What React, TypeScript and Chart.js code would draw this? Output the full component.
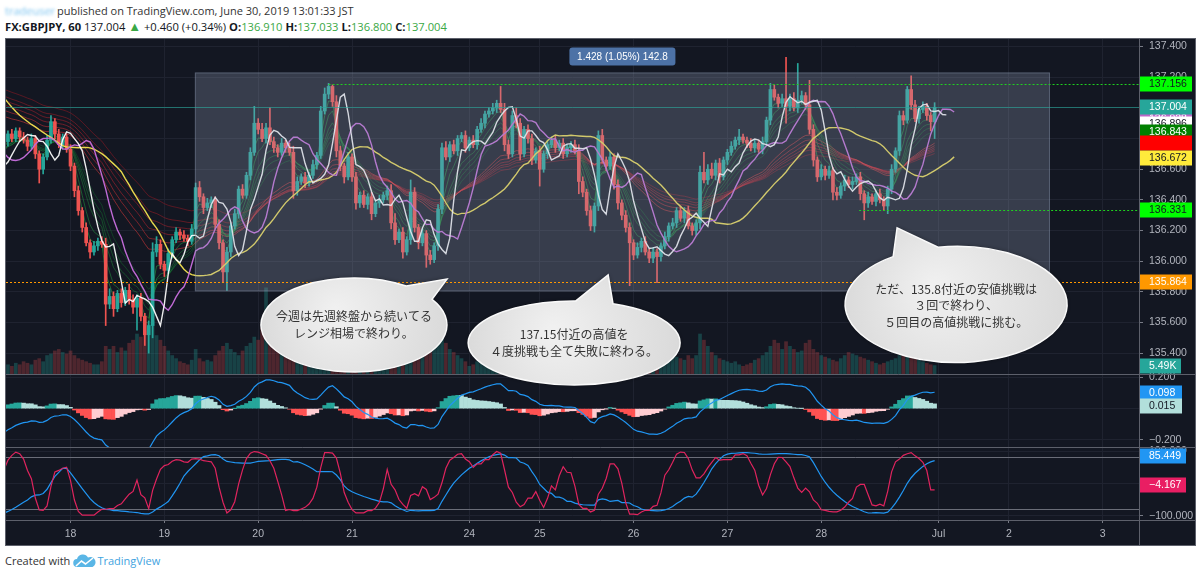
import React, { useEffect, useRef } from "react";
import { Chart, registerables } from "chart.js";

Chart.register(...registerables);

// ------------------------------------------------------------------ data
// hourly closes before the first visible bar (only feed the indicators)
const warmupCloses = [
  137.45, 137.42, 137.38, 137.40, 137.36, 137.30, 137.33, 137.28, 137.25, 137.27,
  137.22, 137.18, 137.20, 137.12, 137.08, 137.10, 137.02, 136.95, 136.88, 136.80,
  136.76, 136.72, 136.70, 136.68, 136.66, 136.62, 136.60, 136.64, 136.70, 136.74,
];

// GBPJPY 60 min closes, Jun 17 07:00 JST -> Jun 29 05:00 JST (weekend skipped)
const closes = [
  136.78, 136.83, 136.80, 136.85, 136.81, 136.79, 136.75, 136.80, 136.70, 136.60,
  136.68, 136.79, 136.91, 136.83, 136.76, 136.81, 136.73, 136.62, 136.46, 136.33,
  136.22, 136.12, 136.06, 136.10, 136.13, 136.11, 135.72, 135.77, 135.69, 135.79,
  135.73, 135.81, 135.75, 135.70, 135.76, 135.64, 135.52, 135.58, 136.06, 136.11,
  135.98, 135.94, 136.05, 136.14, 136.19, 136.17, 136.15, 136.13, 136.21, 136.48,
  136.42, 136.35, 136.38, 136.40, 136.24, 136.12, 135.93, 136.06, 136.23, 136.31,
  136.47, 136.43, 136.56, 136.71, 136.90, 136.86, 136.80, 136.87, 136.78, 136.74,
  136.71, 136.77, 136.74, 136.71, 136.46, 136.52, 136.55, 136.51, 136.56, 136.63,
  136.69, 136.98, 137.09, 137.14, 137.04, 136.72, 136.62, 136.55, 136.68, 136.55,
  136.38, 136.43, 136.37, 136.42, 136.31, 136.38, 136.40, 136.43, 136.46, 136.25,
  136.14, 136.19, 136.06, 136.14, 136.45, 136.22, 136.12, 136.18, 136.04, 136.01,
  136.10, 136.34, 136.74, 136.68, 136.76, 136.72, 136.80, 136.82, 136.74, 136.79,
  136.76, 136.86, 136.90, 136.96, 136.98, 137.00, 137.03, 136.99, 136.76, 136.70,
  136.95, 136.90, 136.70, 136.86, 136.80, 136.66, 136.72, 136.60, 136.70, 136.76,
  136.79, 136.74, 136.77, 136.70, 136.74, 136.76, 136.72, 136.52, 136.45, 136.33,
  136.23, 136.36, 136.82, 136.66, 136.62, 136.68, 136.50, 136.38, 136.30, 136.22,
  136.12, 136.04, 136.09, 136.13, 136.06, 136.02, 136.06, 136.03, 136.10, 136.16,
  136.23, 136.25, 136.33, 136.28, 136.33, 136.23, 136.20, 136.25, 136.58, 136.53,
  136.60, 136.56, 136.64, 136.55, 136.66, 136.71, 136.75, 136.79, 136.81, 136.79,
  136.77, 136.74, 136.77, 136.73, 136.78, 136.92, 137.12, 137.07, 137.03, 137.06,
  137.01, 137.06, 137.00, 137.05, 137.08, 137.02, 136.86, 136.66, 136.55, 136.60,
  136.56, 136.59, 136.45, 136.43, 136.49, 136.53, 136.50, 136.52, 136.55, 136.44,
  136.38, 136.42, 136.39, 136.44, 136.40, 136.36, 136.47, 136.60, 136.72, 136.95,
  136.92, 137.12, 137.02, 136.93, 136.99, 137.01, 136.95, 136.91, 137.004,
];

// wick lengths beyond the body, in pips
const upperWickPips = [
  3, 2, 3, 2, 2, 3, 2, 3, 2, 2,
  2, 3, 4, 2, 3, 2, 2, 3, 2, 3,
  2, 3, 2, 3, 2, 3, 4, 5, 3, 2,
  3, 2, 4, 3, 2, 3, 2, 3, 6, 5,
  3, 2, 3, 2, 3, 2, 3, 2, 3, 3,
  4, 2, 3, 2, 2, 3, 2, 3, 2, 3,
  2, 3, 2, 3, 11, 3, 4, 3, 13, 3,
  2, 3, 2, 3, 4, 3, 2, 3, 2, 3,
  2, 3, 4, 2, 1, 4, 3, 2, 3, 2,
  3, 2, 3, 2, 3, 2, 3, 2, 3, 4,
  6, 2, 3, 2, 8, 3, 2, 3, 2, 3,
  2, 3, 3, 4, 2, 3, 2, 2, 3, 2,
  3, 2, 3, 2, 2, 3, 2, 11, 4, 3,
  3, 5, 3, 2, 3, 3, 2, 3, 2, 3,
  2, 3, 2, 3, 2, 2, 3, 4, 3, 2,
  3, 2, 3, 4, 2, 3, 2, 3, 2, 3,
  3, 2, 3, 2, 3, 2, 3, 2, 2, 3,
  2, 3, 2, 3, 2, 3, 2, 2, 4, 13,
  3, 4, 2, 3, 2, 2, 3, 2, 5, 2,
  2, 3, 2, 2, 3, 2, 4, 3, 2, 3,
  27, 3, 4, 24, 3, 2, 16, 3, 2, 3,
  2, 3, 2, 3, 2, 3, 2, 3, 2, 3,
  2, 3, 2, 2, 3, 2, 2, 3, 2, 3,
  3, 2, 9, 3, 2, 3, 2, 2, 3,
];
const lowerWickPips = [
  2, 3, 2, 2, 3, 2, 3, 2, 3, 9,
  3, 2, 2, 3, 2, 3, 2, 3, 4, 3,
  3, 2, 4, 2, 3, 2, 14, 3, 5, 2,
  3, 2, 3, 4, 15, 3, 7, 12, 8, 3,
  3, 4, 2, 3, 2, 3, 2, 3, 2, 3,
  3, 4, 2, 3, 3, 4, 7, 12, 3, 2,
  3, 2, 2, 3, 2, 3, 2, 3, 2, 3,
  3, 2, 3, 2, 5, 3, 2, 3, 2, 2,
  3, 2, 2, 3, 3, 4, 3, 4, 2, 3,
  4, 3, 2, 3, 4, 2, 3, 2, 3, 4,
  3, 2, 4, 2, 3, 3, 4, 2, 8, 3,
  2, 3, 3, 2, 3, 2, 3, 2, 3, 2,
  2, 3, 2, 3, 2, 2, 3, 2, 4, 3,
  2, 3, 4, 2, 3, 3, 2, 11, 2, 3,
  2, 3, 2, 3, 2, 3, 2, 8, 3, 3,
  3, 4, 3, 2, 3, 2, 3, 4, 3, 3,
  28, 3, 2, 3, 2, 3, 3, 17, 3, 2,
  3, 2, 3, 2, 3, 2, 3, 3, 4, 2,
  3, 2, 3, 4, 2, 3, 2, 2, 3, 2,
  3, 2, 3, 2, 3, 2, 3, 2, 3, 2,
  11, 3, 2, 3, 2, 3, 3, 4, 3, 2,
  3, 2, 5, 3, 2, 3, 2, 3, 2, 4,
  11, 3, 2, 3, 2, 3, 5, 3, 2, 3,
  3, 2, 3, 2, 3, 2, 3, 6, 11,
];

// volume in thousands
const volumesK = [
  5, 6, 5, 7, 6, 8, 7, 6, 9, 10,
  8, 12, 13, 15, 16, 14, 13, 15, 12, 10,
  9, 8, 7, 6, 6, 8, 18, 16, 18, 14,
  17, 15, 20, 22, 26, 24, 28, 32, 34, 25,
  22, 18, 15, 12, 10, 8, 7, 6, 9, 16,
  10, 8, 9, 8, 12, 15, 18, 20, 16, 14,
  12, 15, 18, 20, 24, 22, 30, 56, 28, 20,
  16, 14, 12, 10, 9, 8, 8, 9, 10, 12,
  14, 18, 20, 22, 25, 26, 20, 18, 16, 15,
  14, 12, 10, 9, 8, 7, 7, 8, 9, 10,
  12, 14, 16, 18, 20, 22, 18, 16, 15, 14,
  18, 24, 26, 20, 16, 14, 12, 10, 8, 5,
  6, 8, 9, 10, 9, 8, 10, 12, 14, 15,
  14, 13, 12, 11, 10, 9, 8, 8, 9, 10,
  11, 12, 13, 14, 12, 11, 13, 15, 16, 18,
  14, 20, 24, 18, 15, 13, 12, 14, 16, 18,
  20, 22, 18, 14, 12, 11, 10, 12, 14, 16,
  14, 12, 11, 10, 9, 12, 10, 12, 26, 22,
  18, 14, 12, 10, 9, 8, 7, 8, 6, 5,
  6, 7, 9, 10, 12, 14, 18, 22, 20, 16,
  21, 18, 16, 14, 15, 20, 22, 16, 14, 12,
  11, 10, 9, 8, 10, 12, 14, 13, 12, 11,
  10, 9, 8, 7, 6, 7, 8, 9, 10, 12,
  14, 13, 11, 10, 9, 8, 7, 6, 5.49,
];

const dayTickIndex = [17, 41, 65, 89, 119, 137, 161, 185, 209, 239, 257, 281];
const dayTickLabels = ["18", "19", "20", "21", "24", "25", "26", "27", "28", "Jul", "2", "3"];

const priceTicks = [135.4, 135.6, 135.8, 136.0, 136.2, 136.4, 136.6, 136.8, 137.0, 137.2, 137.4];
const macdTicks = [-0.2, 0, 0.2];
const rciTicks = [-100, 0, 100];
const rciBands = [80, -80];

const rangeLow = 135.803;
const rangeHigh = 137.231;
const rangeFromIndex = 48.8;
const rangeToIndex = 267.5;
const rangeText = "1.428 (1.05%) 142.8";

const lastPrice = 137.004;
const highLevel = 137.156;
const highLevelFrom = 83;
const supportLevel = 136.331;
const supportLevelFrom = 218.7;
const lowLevel = 135.864;

// right-axis value tags (value, text)
const priceTagValues = [136.928, 137.004, 136.896, 136.843, 136.77, 136.672, 137.156, 136.331, 135.864];
const priceTagTexts = ["136.928", "137.004", "136.896", "136.843", "136.770", "136.672", "137.156", "136.331", "135.864"];
const volumeTagValue = 5.49;
const volumeTagText = "5.49K";
const macdTagValues = [0.098, 0.015];
const macdTagTexts = ["0.098", "0.015"];
const rciTagValues = [85.449, -4.167];
const rciTagTexts = ["85.449", "\u22124.167"];

const bubbleLines = [
  ["今週は先週終盤から続いてる", "レンジ相場で終わり。"],
  ["137.15付近の高値を", "４度挑戦も全て失敗に終わる。"],
  ["ただ、135.8付近の安値挑戦は", "３回で終わり、", "５回目の高値挑戦に挑む。"],
];

// ------------------------------------------------------------------ styles / layout
const BG = "#131722";
const GRID = "#1f2330";
const TEXT = "#b2b5be";
const FRAME = "#5d606b";
const UP = "#26a69a";
const DOWN = "#ef5350";
const AXIS_FONT = "'Liberation Sans', 'DejaVu Sans', sans-serif";
const CJK_FONT = "'Noto Sans CJK JP', sans-serif";

const priceTagStyles = [
  { bg: "#ba68c8", fg: "#ffffff", w: 52 },
  { bg: "#26a69a", fg: "#ffffff", w: 52 },
  { bg: "#ffffff", fg: "#131722", w: 52 },
  { bg: "#008000", fg: "#ffffff", w: 52 },
  { bg: "#ff0000", fg: "#ff0000", w: 52 },
  { bg: "#ffeb3b", fg: "#131722", w: 52 },
  { bg: "#00ff00", fg: "#131722", w: 52 },
  { bg: "#00ff00", fg: "#131722", w: 52 },
  { bg: "#ff9800", fg: "#ffffff", w: 52 },
];
const macdTagStyles = [
  { bg: "#2196f3", fg: "#ffffff", w: 42 },
  { bg: "#b2dfdb", fg: "#131722", w: 42 },
];
const rciTagStyles = [
  { bg: "#2196f3", fg: "#ffffff", w: 46 },
  { bg: "#e91e63", fg: "#ffffff", w: 46 },
];

const bubbleGeom = [
  { at: [89.5, 135.584], tip: [113.3, 135.884], rx: 93, ry: 47, spread: 0.2, dy: 0 },
  { at: [145.8, 135.467], tip: [154.5, 135.91], rx: 106, ry: 42, spread: 0.18, dy: 0 },
  { at: [243.5, 135.718], tip: [228.4, 136.217], rx: 111, ry: 58, spread: 0.22, dy: 1.5 },
];

// ------------------------------------------------------------------ derived series
const W = warmupCloses.length;
const allCloses = [...warmupCloses, ...closes];
const opens = closes.map((_, i) => allCloses[W + i - 1]);
const highs = closes.map((c, i) => Math.max(opens[i], c) + upperWickPips[i] / 100);
const lows = closes.map((c, i) => Math.min(opens[i], c) - lowerWickPips[i] / 100);
const isUp = closes.map((c, i) => c >= opens[i]);

function sma(arr: number[], n: number) {
  return arr.map((_, j) => {
    const s = Math.max(0, j - n + 1);
    let t = 0;
    for (let k = s; k <= j; k++) t += arr[k];
    return t / (j - s + 1);
  });
}
function ema(arr: number[], n: number) {
  const a = 2 / (n + 1);
  const out: number[] = [];
  let e = arr[0];
  arr.forEach((v, j) => {
    e = j === 0 ? v : a * v + (1 - a) * e;
    out.push(e);
  });
  return out;
}
function rci(arr: number[], n: number) {
  return arr.map((_, j) => {
    if (j < n - 1) return null;
    const win = arr.slice(j - n + 1, j + 1);
    let sum = 0;
    for (let k = 0; k < n; k++) {
      const timeRank = n - k;
      const v = win[k];
      let greater = 0;
      let equal = 0;
      for (const w of win) {
        if (w > v) greater++;
        else if (w === v) equal++;
      }
      const priceRank = greater + (equal + 1) / 2;
      sum += (timeRank - priceRank) ** 2;
    }
    return (1 - (6 * sum) / (n * (n * n - 1))) * 100;
  });
}
const toPoints = (vals: (number | null)[], shift: number) =>
  vals
    .map((v, j) => ({ x: j - W + shift, y: v }))
    .filter((p) => p.x >= -2 && p.y !== null);

const dma3 = toPoints(sma(allCloses, 3), 3);
const dma7 = toPoints(sma(allCloses, 7), 5);
const dma25 = toPoints(sma(allCloses, 25), 5);
const gmmaShortPeriods = [3, 5, 8, 10, 12, 15];
const gmmaLongPeriods = [30, 35, 40, 45, 50, 60];

const ema12 = ema(allCloses, 12);
const ema26 = ema(allCloses, 26);
const macdLine = ema12.map((v, j) => v - ema26[j]);
const signal = ema(macdLine, 9);
const hist = macdLine.map((v, j) => v - signal[j]);
const histColors: string[] = [];
const histPts: { x: number; y: number }[] = [];
for (let j = W; j < allCloses.length; j++) {
  const h = hist[j];
  const p = hist[j - 1];
  histPts.push({ x: j - W, y: h });
  histColors.push(h >= 0 ? (h > p ? "#26a69a" : "#b2dfdb") : h < p ? "#ff5252" : "#ffcdd2");
}
const rci9 = toPoints(rci(allCloses, 9), 0);
const rci26 = toPoints(rci(allCloses, 26), 0);

const fmt = (v: number, d: number) => v.toFixed(d).replace("-", "\u2212");

// ------------------------------------------------------------------ drawing helpers
function tag(ctx: any, x: number, y: number, st: any, text: string) {
  ctx.fillStyle = st.bg;
  ctx.fillRect(x, Math.round(y) - 7.5, st.w, 15);
  ctx.fillStyle = st.fg;
  ctx.font = `10.5px ${AXIS_FONT}`;
  ctx.textAlign = "left";
  ctx.textBaseline = "middle";
  ctx.fillText(text, x + 9, Math.round(y) + 0.5);
}

function bubble(ctx: any, cx: number, cy: number, g: any, tx: number, ty: number, lines: string[]) {
  const ang = Math.atan2((ty - cy) / g.ry, (tx - cx) / g.rx);
  ctx.save();
  ctx.beginPath();
  ctx.ellipse(cx, cy, g.rx, g.ry, 0, ang + g.spread, ang - g.spread + Math.PI * 2);
  ctx.lineTo(tx, ty);
  ctx.closePath();
  const grad = ctx.createRadialGradient(cx - g.rx * 0.2, cy - g.ry * 0.3, 4, cx, cy, g.rx * 1.05);
  grad.addColorStop(0, "#f0f0f0");
  grad.addColorStop(1, "#d9d9d9");
  ctx.shadowColor = "rgba(0,0,0,0.45)";
  ctx.shadowBlur = 5;
  ctx.fillStyle = grad;
  ctx.fill();
  ctx.shadowColor = "transparent";
  ctx.lineWidth = 1.5;
  ctx.strokeStyle = "#fafafa";
  ctx.stroke();
  ctx.fillStyle = "#333333";
  ctx.font = `12px ${CJK_FONT}`;
  ctx.textAlign = "center";
  ctx.textBaseline = "middle";
  const lh = 16.5;
  const start = cy + g.dy - ((lines.length - 1) * lh) / 2;
  lines.forEach((t, k) => ctx.fillText(t, cx, start + k * lh));
  ctx.restore();
}

const overlay = {
  id: "overlay",
  beforeDraw(chart: any) {
    const { ctx, width, height } = chart;
    ctx.save();
    ctx.fillStyle = BG;
    ctx.fillRect(0, 0, width, height);
    ctx.restore();
  },
  beforeDatasetsDraw(chart: any) {
    const { ctx, chartArea: ca, scales } = chart;
    const rs = scales.rci;
    ctx.save();
    ctx.strokeStyle = "#6a6d78";
    ctx.lineWidth = 1;
    rciBands.forEach((b) => {
      const y = Math.round(rs.getPixelForValue(b)) + 0.5;
      ctx.beginPath();
      ctx.moveTo(ca.left, y);
      ctx.lineTo(ca.right, y);
      ctx.stroke();
    });
    ctx.restore();
  },
  afterDatasetsDraw(chart: any) {
    const { ctx, chartArea: ca, scales } = chart;
    const xs = scales.x;
    const ps = scales.price;
    ctx.save();
    ctx.beginPath();
    ctx.rect(ca.left, ps.top, ca.right - ca.left, ps.bottom - ps.top);
    ctx.clip();
    // range rectangle
    const x1 = xs.getPixelForValue(rangeFromIndex);
    const x2 = xs.getPixelForValue(rangeToIndex);
    const y1 = ps.getPixelForValue(rangeHigh);
    const y2 = ps.getPixelForValue(rangeLow);
    ctx.fillStyle = "rgba(150,162,185,0.28)";
    ctx.fillRect(x1, y1, x2 - x1, y2 - y1);
    ctx.strokeStyle = "rgba(150,162,185,0.35)";
    ctx.lineWidth = 1;
    ctx.strokeRect(x1 + 0.5, y1 + 0.5, x2 - x1 - 1, y2 - y1 - 1);
    // last price line
    const y = Math.round(ps.getPixelForValue(lastPrice)) + 0.5;
    ctx.strokeStyle = "rgba(38,166,154,0.6)";
    ctx.beginPath();
    ctx.moveTo(ca.left, y);
    ctx.lineTo(ca.right, y);
    ctx.stroke();
    // dotted levels
    ctx.setLineDash([2, 2]);
    const level = (v: number, from: number, color: string) => {
      const yy = Math.round(ps.getPixelForValue(v)) + 0.5;
      ctx.strokeStyle = color;
      ctx.beginPath();
      ctx.moveTo(Math.max(ca.left, xs.getPixelForValue(from)), yy);
      ctx.lineTo(ca.right, yy);
      ctx.stroke();
    };
    level(highLevel, highLevelFrom, "#1fd11f");
    level(supportLevel, supportLevelFrom, "#1fd11f");
    level(lowLevel, -5, "#ff9800");
    ctx.setLineDash([]);
    // range label
    const lx = (x1 + x2) / 2;
    const ly = y1 - 16;
    ctx.fillStyle = "#4d72a6";
    ctx.beginPath();
    ctx.roundRect(lx - 53, ly - 9, 106, 18, 3);
    ctx.fill();
    ctx.fillStyle = "#ffffff";
    ctx.font = `10px ${AXIS_FONT}`;
    ctx.textAlign = "center";
    ctx.textBaseline = "middle";
    ctx.fillText(rangeText, lx, ly + 0.5);
    ctx.restore();
  },
  afterDraw(chart: any) {
    const { ctx, chartArea: ca, scales, width, height } = chart;
    const xs = scales.x;
    const ps = scales.price;
    ctx.save();
    // frame & separators
    ctx.strokeStyle = FRAME;
    ctx.lineWidth = 1;
    [scales.macd.top, scales.rci.top, ca.bottom].forEach((t: number) => {
      const y = Math.round(t) + 0.5;
      ctx.beginPath();
      ctx.moveTo(0, y);
      ctx.lineTo(width, y);
      ctx.stroke();
    });
    ctx.beginPath();
    ctx.moveTo(Math.round(ca.right) + 0.5, 0);
    ctx.lineTo(Math.round(ca.right) + 0.5, height);
    ctx.stroke();
    ctx.strokeRect(0.5, 0.5, width - 1, height - 1);
    // axis tags
    const ax = Math.round(ca.right) + 1;
    priceTagValues.forEach((v, k) => tag(ctx, ax, ps.getPixelForValue(v), priceTagStyles[k], priceTagTexts[k]));
    tag(ctx, ax, scales.vol.getPixelForValue(volumeTagValue), { bg: "#26a69a", fg: "#ffffff", w: 41 }, volumeTagText);
    macdTagValues.forEach((v, k) => tag(ctx, ax, scales.macd.getPixelForValue(v), macdTagStyles[k], macdTagTexts[k]));
    rciTagValues.forEach((v, k) => tag(ctx, ax, scales.rci.getPixelForValue(v), rciTagStyles[k], rciTagTexts[k]));
    // speech bubbles
    bubbleGeom.forEach((g, k) => {
      const cx = xs.getPixelForValue(g.at[0]);
      const cy = ps.getPixelForValue(g.at[1]);
      const tx = xs.getPixelForValue(g.tip[0]);
      const ty = ps.getPixelForValue(g.tip[1]);
      bubble(ctx, cx, cy, g, tx, ty, bubbleLines[k]);
    });
    ctx.restore();
  },
};

const noPadding = (s: any) => {
  s.paddingTop = 0;
  s.paddingBottom = 0;
  s.paddingLeft = 0;
  s.paddingRight = 0;
};

function buildConfig(): any {
  const candleColors = isUp.map((u) => (u ? UP : DOWN));
  const volColors = isUp.map((u) => (u ? "rgba(38,166,154,0.3)" : "rgba(239,83,80,0.27)"));
  const line = (data: any, color: string, width: number, axis: string, order: number) => ({
    type: "line",
    data,
    borderColor: color,
    borderWidth: width,
    pointRadius: 0,
    tension: 0,
    yAxisID: axis,
    order,
    clip: 0,
  });
  const shortColors = ["rgba(40,170,70,0.55)", "rgba(35,160,65,0.5)", "rgba(30,150,60,0.45)", "rgba(25,140,55,0.45)", "rgba(20,130,50,0.42)", "rgba(15,120,45,0.4)"];
  const longColors = ["rgba(239,60,60,0.5)", "rgba(230,50,55,0.48)", "rgba(215,40,50,0.46)", "rgba(200,35,45,0.46)", "rgba(185,30,40,0.46)", "rgba(170,25,35,0.46)"];

  const yScale = (min: number, max: number, ticks: number[], weight: number) => ({
    type: "linear",
    position: "right",
    stack: "panes",
    stackWeight: weight,
    min,
    max,
    afterBuildTicks: (s: any) => {
      s.ticks = ticks.map((v) => ({ value: v }));
    },
    afterFit: (s: any) => {
      s.width = 57;
      noPadding(s);
    },
    grid: { color: GRID, drawTicks: true, tickLength: 4, tickColor: "#787b86" },
    border: { display: false },
    ticks: {
      color: TEXT,
      font: { family: AXIS_FONT, size: 10.5 },
      padding: 6,
      autoSkip: false,
      callback: (v: any) => fmt(Number(v), 3),
    },
  });

  return {
    type: "bar",
    data: {
      datasets: [
        line(dma3, "rgba(255,255,255,0.92)", 1.4, "price", 1),
        line(dma7, "#c06bd6", 1.4, "price", 2),
        line(dma25, "#e8d84e", 1.4, "price", 3),
        {
          type: "bar",
          data: closes.map((c, i) => ({ x: i, y: [opens[i], c] })),
          backgroundColor: candleColors,
          barThickness: 3,
          minBarLength: 1,
          grouped: false,
          yAxisID: "price",
          order: 4,
          clip: 0,
        },
        {
          type: "bar",
          data: closes.map((_, i) => ({ x: i, y: [lows[i], highs[i]] })),
          backgroundColor: candleColors,
          barThickness: 1,
          grouped: false,
          yAxisID: "price",
          order: 5,
          clip: 0,
        },
        ...gmmaShortPeriods.map((n, k) => line(toPoints(ema(allCloses, n), 0), shortColors[k], 1, "price", 6)),
        ...gmmaLongPeriods.map((n, k) => line(toPoints(ema(allCloses, n), 0), longColors[k], 1, "price", 7)),
        {
          type: "bar",
          data: volumesK.map((v, i) => ({ x: i, y: v })),
          backgroundColor: volColors,
          barThickness: 3,
          grouped: false,
          yAxisID: "vol",
          order: 20,
          clip: 0,
        },
        line(toPoints(macdLine, 0), "#2196f3", 1.2, "macd", 1),
        {
          type: "bar",
          data: histPts,
          backgroundColor: histColors,
          barPercentage: 1,
          categoryPercentage: 1,
          grouped: false,
          yAxisID: "macd",
          order: 2,
          clip: 0,
        },
        line(rci9, "#e0245e", 1.2, "rci", 1),
        line(rci26, "#2196f3", 1.2, "rci", 2),
      ],
    },
    options: {
      responsive: false,
      maintainAspectRatio: false,
      animation: false,
      devicePixelRatio: 1,
      events: [],
      layout: { padding: { left: 1, right: 0, top: 0, bottom: 0 } },
      plugins: { legend: { display: false }, tooltip: { enabled: false } },
      scales: {
        x: {
          type: "linear",
          min: 0.5,
          max: 290.27,
          offset: false,
          afterBuildTicks: (s: any) => {
            s.ticks = dayTickIndex.map((v) => ({ value: v }));
          },
          afterFit: (s: any) => {
            s.height = 26;
            noPadding(s);
          },
          grid: { color: GRID, offset: false, drawTicks: true, tickLength: 3, tickColor: "#787b86" },
          border: { display: false },
          ticks: {
            color: TEXT,
            font: { family: AXIS_FONT, size: 10.5 },
            padding: 5,
            autoSkip: false,
            maxRotation: 0,
            callback: (v: any) => {
              const k = dayTickIndex.indexOf(Number(v));
              return k >= 0 ? dayTickLabels[k] : "";
            },
          },
        },
        price: yScale(135.264, 137.456, priceTicks, 336),
        macd: yScale(-0.2447, 0.221, macdTicks, 73),
        rci: yScale(-113.3, 112.4, rciTicks, 73),
        vol: {
          type: "linear",
          position: "left",
          display: false,
          min: -94.9,
          max: 218.4,
          afterFit: noPadding,
        },
      },
    },
    plugins: [overlay],
  };
}

export default function App() {
  const ref = useRef<HTMLCanvasElement>(null);
  useEffect(() => {
    const chart = new Chart(ref.current as HTMLCanvasElement, buildConfig());
    return () => chart.destroy();
  }, []);

  const green = { color: "#3aa845" };
  const bold = { fontWeight: 700 };
  return (
    <div
      style={{
        position: "fixed",
        left: 0,
        top: 0,
        width: 1200,
        height: 576,
        background: "#ffffff",
        overflow: "hidden",
        fontFamily: "'Open Sans', sans-serif",
      }}
    >
      <div style={{ position: "absolute", left: 5, top: 4, fontSize: 11, lineHeight: "14px", color: "#333", whiteSpace: "nowrap" }}>
        <span style={{ display: "inline-block", width: 52, color: "#7cc4f0", filter: "blur(1.5px)" }}>tradeuser</span>
        published on TradingView.com, June 30, 2019 13:01:33 JST
      </div>
      <div style={{ position: "absolute", left: 5, top: 19, fontSize: 11.2, lineHeight: "14px", color: "#131722", whiteSpace: "nowrap" }}>
        <span style={bold}>FX:GBPJPY, 60</span> 137.004 <span style={{ color: "#3aa845", fontSize: 13 }}>▲</span> +0.460 (+0.34%){" "}
        <span style={bold}>O:</span><span style={green}>136.910</span>{" "}
        <span style={bold}>H:</span><span style={green}>137.033</span>{" "}
        <span style={bold}>L:</span><span style={green}>136.800</span>{" "}
        <span style={bold}>C:</span><span style={green}>137.004</span>
      </div>
      <canvas
        ref={ref}
        width={1191}
        height={508}
        style={{ position: "absolute", left: 5, top: 38, width: 1191, height: 508 }}
      />
      <div style={{ position: "absolute", left: 5, top: 554, fontSize: 11, lineHeight: "14px", color: "#333", whiteSpace: "nowrap", display: "flex", alignItems: "center" }}>
        <span>Created with</span>
        <svg width="23" height="14" viewBox="0 0 23 14" style={{ margin: "0 1px 0 3px" }}>
          <path d="M4.5 13 a4 4 0 0 1 -0.5 -8 a6 6 0 0 1 11 -1.5 a4.6 4.6 0 0 1 4.5 9.5 z" fill="#5ab6e6" />
          <path d="M3 12 L8.5 7 L12.5 10 L20 4" stroke="#ffffff" strokeWidth="1.6" fill="none" />
        </svg>
        <span style={{ color: "#3fa3e0" }}>TradingView</span>
      </div>
    </div>
  );
}
